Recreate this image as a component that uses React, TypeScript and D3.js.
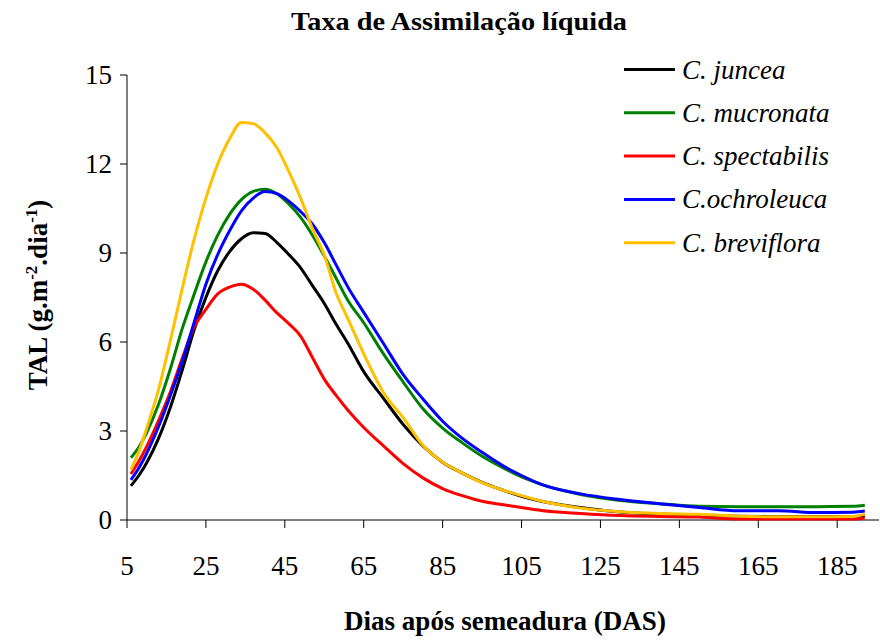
import React from "react";
import * as d3 from "d3";

const days = [6, 8, 10, 13, 16, 19, 22, 25, 28, 31, 34, 37, 40, 43, 46, 49, 52, 55, 58, 61, 65, 70, 75, 80, 85, 90, 95, 100, 105, 110, 120, 130, 140, 150, 160, 170, 180, 189, 192];

const juncea = [1.15, 1.5, 1.93, 2.75, 3.8, 5.05, 6.4, 7.5, 8.4, 9.05, 9.48, 9.68, 9.66, 9.35, 8.95, 8.5, 7.9, 7.3, 6.6, 5.95, 5.0, 4.1, 3.22, 2.5, 1.95, 1.58, 1.27, 1.02, 0.8, 0.63, 0.42, 0.27, 0.2, 0.16, 0.13, 0.12, 0.12, 0.12, 0.15];
const mucronata = [2.1, 2.45, 2.95, 3.9, 5.1, 6.45, 7.6, 8.7, 9.6, 10.3, 10.8, 11.08, 11.15, 11.0, 10.65, 10.2, 9.6, 8.9, 8.15, 7.4, 6.65, 5.6, 4.65, 3.75, 3.1, 2.6, 2.15, 1.78, 1.45, 1.2, 0.86, 0.66, 0.55, 0.46, 0.45, 0.45, 0.45, 0.46, 0.5];
const spectabilis = [1.55, 1.98, 2.48, 3.35, 4.32, 5.45, 6.5, 7.1, 7.62, 7.85, 7.95, 7.78, 7.41, 6.98, 6.62, 6.2, 5.48, 4.75, 4.2, 3.7, 3.12, 2.5, 1.9, 1.42, 1.06, 0.82, 0.63, 0.52, 0.42, 0.32, 0.22, 0.15, 0.12, 0.1, 0.03, 0.03, 0.03, 0.03, 0.07];
const ochroleuca = [1.35, 1.75, 2.25, 3.15, 4.2, 5.35, 6.65, 7.95, 8.95, 9.75, 10.42, 10.85, 11.07, 11.0, 10.75, 10.4, 9.97, 9.35, 8.6, 7.85, 7.0, 5.95, 4.9, 4.08, 3.33, 2.75, 2.28, 1.85, 1.5, 1.2, 0.88, 0.69, 0.55, 0.42, 0.31, 0.31, 0.25, 0.26, 0.3];
const breviflora = [1.7, 2.3, 3.1, 4.4, 6.05, 7.8, 9.45, 10.85, 12.0, 12.85, 13.4, 13.36, 13.05, 12.55, 11.75, 10.85, 9.82, 8.93, 7.65, 6.78, 5.6, 4.3, 3.45, 2.52, 1.95, 1.58, 1.26, 1.02, 0.82, 0.64, 0.4, 0.28, 0.22, 0.19, 0.13, 0.11, 0.11, 0.12, 0.2];

const seriesNames = ["C. juncea", "C. mucronata", "C. spectabilis", "C.ochroleuca", "C. breviflora"];
const seriesColors = ["#000000", "#008000", "#ff0000", "#0000ff", "#ffc000"];
const seriesValues = [juncea, mucronata, spectabilis, ochroleuca, breviflora];

const xTicks = [5, 25, 45, 65, 85, 105, 125, 145, 165, 185];
const yTicks = [0, 3, 6, 9, 12, 15];

const W = 880;
const H = 640;
const FONT = "Liberation Serif";

export default function App() {
  const x = d3.scaleLinear().domain([5, 195.6]).range([127, 879]);
  const y = d3.scaleLinear().domain([0, 15]).range([520, 75]);
  const line = d3
    .line<number>()
    .x((_, i) => x(days[i]))
    .y((v) => y(v))
    .curve(d3.curveMonotoneX);

  const order = [0, 2, 1, 3, 4];
  const ts = { fontFamily: FONT } as React.CSSProperties;

  return (
    <svg width={W} height={H} style={{ position: "absolute", left: 0, top: 0, background: "#fff", fontFamily: FONT }}>
      <rect x={0} y={0} width={W} height={H} fill="#fff" />
      <text x={459} y={30} textAnchor="middle" fontSize={26} fontWeight="bold" style={ts} textLength={336} lengthAdjust="spacingAndGlyphs">
        Taxa de Assimilação líquida
      </text>

      {/* axes */}
      <line x1={127} x2={127} y1={y(15)} y2={y(0)} stroke="#000" strokeWidth={1} />
      <line x1={127} x2={879} y1={y(0)} y2={y(0)} stroke="#000" strokeWidth={1} />
      {yTicks.map((t) => (
        <g key={"y" + t}>
          <line x1={120} x2={127} y1={y(t)} y2={y(t)} stroke="#000" />
          <text x={112} y={y(t) + 9} textAnchor="end" fontSize={27} style={ts}>
            {t}
          </text>
        </g>
      ))}
      {xTicks.map((t) => (
        <g key={"x" + t}>
          <line x1={x(t)} x2={x(t)} y1={520} y2={528} stroke="#000" />
          <text x={x(t)} y={575} textAnchor="middle" fontSize={27} style={ts}>
            {t}
          </text>
        </g>
      ))}

      {/* axis titles */}
      <text x={505} y={630} textAnchor="middle" fontSize={27} fontWeight="bold" style={ts}>
        Dias após semeadura (DAS)
      </text>
      <text transform="translate(47,295) rotate(-90)" textAnchor="middle" fontSize={27} fontWeight="bold" style={ts}>
        TAL (g.m
        <tspan fontSize={17} dy={-10}>-2</tspan>
        <tspan dy={10}>.dia</tspan>
        <tspan fontSize={17} dy={-10}>-1</tspan>
        <tspan dy={10}>)</tspan>
      </text>

      {/* lines */}
      {order.map((k) => (
        <path key={k} d={line(seriesValues[k]) || ""} fill="none" stroke={seriesColors[k]} strokeWidth={3} strokeLinejoin="round" />
      ))}

      {/* legend */}
      {seriesNames.map((n, i) => (
        <g key={n}>
          <line x1={624} x2={675} y1={69.5 + i * 43.3} y2={69.5 + i * 43.3} stroke={seriesColors[i]} strokeWidth={3} />
          <text x={682} y={78.5 + i * 43.3} fontSize={27} fontStyle="italic" style={ts}>
            {n}
          </text>
        </g>
      ))}
    </svg>
  );
}
